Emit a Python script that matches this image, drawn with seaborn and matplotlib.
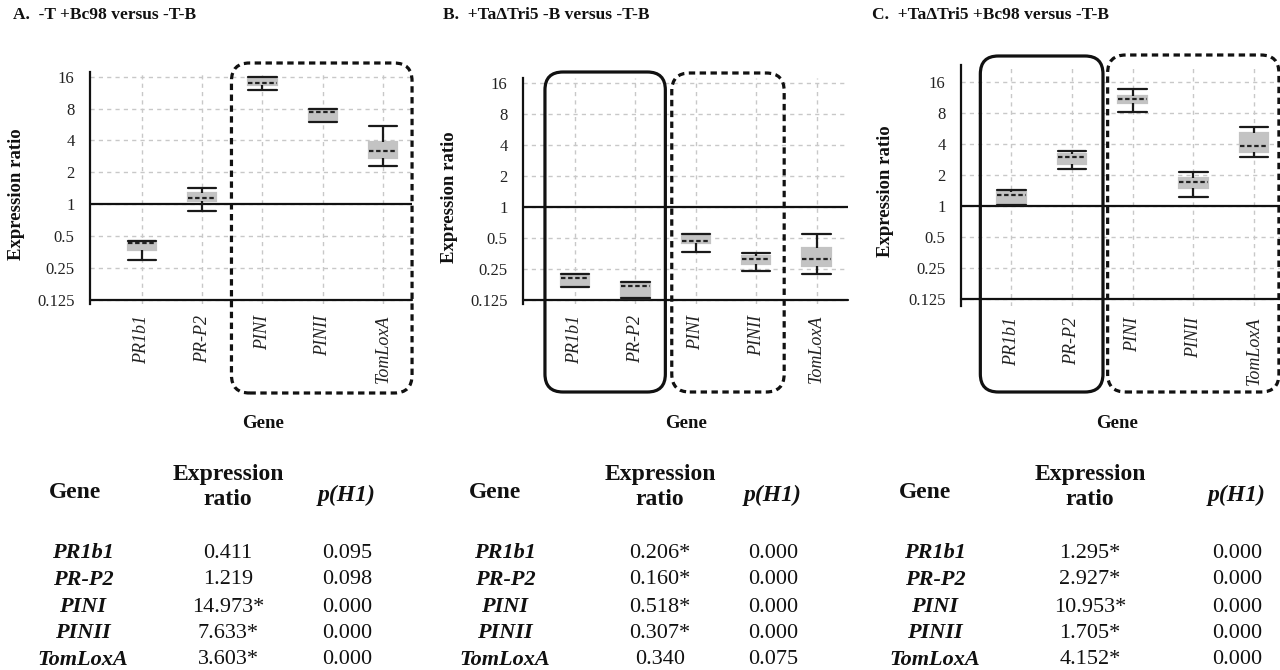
import numpy as np
import pandas as pd
import matplotlib
matplotlib.use("Agg")
import matplotlib.pyplot as plt
import seaborn as sns
from matplotlib.patches import FancyBboxPatch
from matplotlib.transforms import IdentityTransform
from matplotlib.ticker import NullLocator

sns.set_theme(style="white")
plt.rcParams['font.family'] = ['Liberation Serif', 'DejaVu Serif']

# ---------------- data ----------------
genes = ["PR1b1", "PR-P2", "PINI", "PINII", "TomLoxA"]
yticks = [0.125, 0.25, 0.5, 1, 2, 4, 8, 16]
ytick_labels = ["0.125", "0.25", "0.5", "1", "2", "4", "8", "16"]

titles = ["A.  -T +Bc98 versus -T-B",
          "B.  +Ta\u0394Tri5 -B versus -T-B",
          "C.  +Ta\u0394Tri5 +Bc98 versus -T-B"]

# Panel A box summaries (whisker low, box low, median, box high, whisker high)
whisker_low_a = [0.30, 0.865, 12.0, 6.0, 2.28]
box_low_a = [0.37, 1.08, 13.5, 6.1, 2.72]
median_a = [0.43, 1.15, 14.1, 7.48, 3.18]
box_high_a = [0.45, 1.27, 15.4, 7.88, 3.90]
whisker_high_a = [0.45, 1.44, 16.0, 8.0, 5.47]

# Panel B
whisker_low_b = [0.166, 0.130, 0.37, 0.24, 0.224]
box_low_b = [0.170, 0.131, 0.45, 0.28, 0.265]
median_b = [0.204, 0.170, 0.47, 0.31, 0.31]
box_high_b = [0.224, 0.188, 0.547, 0.337, 0.40]
whisker_high_b = [0.224, 0.188, 0.547, 0.36, 0.55]

# Panel C
whisker_low_c = [1.04, 2.29, 8.24, 1.22, 2.99]
box_low_c = [1.06, 2.58, 10.0, 1.49, 3.39]
median_c = [1.29, 2.99, 11.0, 1.71, 3.85]
box_high_c = [1.39, 3.22, 11.9, 1.87, 5.20]
whisker_high_c = [1.43, 3.44, 13.8, 2.17, 5.94]

# Tables
ratio_a = [0.411, 1.219, 14.973, 7.633, 3.603]
signif_a = [False, False, True, True, True]
p_a = [0.095, 0.098, 0.000, 0.000, 0.000]

ratio_b = [0.206, 0.160, 0.518, 0.307, 0.340]
signif_b = [True, True, True, True, False]
p_b = [0.000, 0.000, 0.000, 0.000, 0.075]

ratio_c = [1.295, 2.927, 10.953, 1.705, 4.152]
signif_c = [True, True, True, True, True]
p_c = [0.000, 0.000, 0.000, 0.000, 0.000]

# ---------------- figure ----------------
W, H = 1280, 670
fig = plt.figure(figsize=(W / 100, H / 100), dpi=100)
fig.patch.set_facecolor("white")


def fx(x):
    return x / W


def fy(y):
    return 1 - y / H


def panel_frame(lo, q1, med, q3, hi):
    rows = []
    for g, vals in zip(genes, zip(lo, q1, med, q3, hi)):
        for v in vals:
            rows.append((g, v))
    return pd.DataFrame(rows, columns=["gene", "ratio"])


panels = [
    dict(df=panel_frame(whisker_low_a, box_low_a, median_a, box_high_a, whisker_high_a),
         left=90, right=412, top=71.7, bottom=304, y16=76.7, y0125=300, xlim=(-0.86, 4.48),
         title_x=13, ylab_x=17, gene_x=263,
         table=(ratio_a, signif_a, p_a), tx=(75, 83, 228, 347),
         frames=[(2, 4, 31, 29, 63, 393, "dashed")]),
    dict(df=panel_frame(whisker_low_b, box_low_b, median_b, box_high_b, whisker_high_b),
         left=523, right=848, top=78, bottom=304, y16=83.3, y0125=300, xlim=(-0.86, 4.52),
         title_x=443, ylab_x=450, gene_x=686,
         table=(ratio_b, signif_b, p_b), tx=(495, 505, 660, 773),
         frames=[(0, 1, 30, 30, 72, 392, "solid"), (2, 3, 24, 28, 73, 392, "dashed")]),
    dict(df=panel_frame(whisker_low_c, box_low_c, median_c, box_high_c, whisker_high_c),
         left=961, right=1280, top=65, bottom=306, y16=82.3, y0125=299.3, xlim=(-0.83, 4.43),
         title_x=872, ylab_x=885, gene_x=1117,
         table=(ratio_c, signif_c, p_c), tx=(925, 935, 1090, 1237),
         frames=[(0, 1, 31, 31, 56, 392, "solid"), (2, 4, 25, 25, 55, 392, "dashed")]),
]

for k, P in enumerate(panels):
    ax = fig.add_axes([fx(P["left"]), fy(P["bottom"]),
                       (P["right"] - P["left"]) / W, (P["bottom"] - P["top"]) / H])
    ax.set_facecolor("white")
    sns.boxplot(data=P["df"], x="gene", y="ratio", order=genes, ax=ax,
                whis=(0, 100), width=0.47, color="#c3c3c3", linecolor="#1a1a1a",
                linewidth=1.6, log_scale=2, showfliers=False, capwidths=0.47,
                boxprops=dict(edgecolor="#c3c3c3"),
                medianprops=dict(linestyle=(0, (2, 1.2)), color="#222222", linewidth=1.6))
    ppd = (P["y0125"] - P["y16"]) / 7
    lo = -3 - (P["bottom"] - P["y0125"]) / ppd
    hi = 4 + (P["y16"] - P["top"]) / ppd
    ax.set_ylim(2 ** lo, 2 ** hi)
    ax.set_xlim(*P["xlim"])
    ax.set_yticks(yticks, ytick_labels)
    ax.yaxis.set_minor_locator(NullLocator())
    ax.set_xlabel("")
    ax.set_ylabel("")
    ax.set_axisbelow(True)
    ax.grid(True, color="#c8c8c8", linestyle=(0, (3, 3)), linewidth=1)
    for s in ["top", "right", "bottom"]:
        ax.spines[s].set_visible(False)
    ax.spines["left"].set_color("#111111")
    ax.spines["left"].set_linewidth(1.6)
    ax.axhline(1, color="#111111", lw=1.6, zorder=1.5)
    ax.axhline(0.125, color="#111111", lw=1.6, zorder=1.5, clip_on=False)
    ax.tick_params(axis="y", length=0, pad=11, labelsize=12, colors="#222222")
    ax.tick_params(axis="x", length=0, pad=8, labelsize=13, colors="#222222", rotation=90)
    for lbl in ax.get_xticklabels():
        lbl.set_fontstyle("italic")

    # titles and axis labels
    fig.text(fx(P["title_x"]), fy(15), titles[k], ha="left", va="center",
             fontsize=12.5, fontweight="bold", color="#111111")
    ylab_y = (P["top"] + P["bottom"]) / 2 + 6
    fig.text(fx(P["ylab_x"]), fy(ylab_y), "Expression ratio", rotation=90,
             ha="center", va="center", fontsize=13.5, fontweight="bold", color="#111111")
    fig.text(fx(P["gene_x"]), fy(423), "Gene", ha="center", va="center",
             fontsize=13.5, fontweight="bold", color="#111111")

    # grouping frames
    for i0, i1, ml, mr, ytop, ybot, style in P["frames"]:
        x0 = ax.transData.transform((i0, 1))[0] - ml
        x1 = min(ax.transData.transform((i1, 1))[0] + mr, W - 1)
        ls = "-" if style == "solid" else (0, (2.0, 1.4))
        patch = FancyBboxPatch((x0, H - ybot), x1 - x0, ybot - ytop,
                               boxstyle="round,pad=0,rounding_size=18",
                               transform=IdentityTransform(), fill=False,
                               edgecolor="#111111", linewidth=2.3, linestyle=ls)
        fig.add_artist(patch)

    # table
    ratios, sig, pvals = P["table"]
    hx, nx, vx, px = P["tx"]
    tsize = 16
    hsize = 17
    fig.text(fx(hx), fy(493), "Gene", ha="center", va="center", fontsize=hsize,
             fontweight="bold", color="#111111")
    fig.text(fx(vx), fy(487), "Expression\nratio", ha="center", va="center",
             fontsize=hsize, fontweight="bold", color="#111111", linespacing=1.3)
    fig.text(fx(px), fy(495), "p(H1)", ha="center", va="center", fontsize=hsize,
             fontweight="bold", fontstyle="italic", color="#111111")
    row_y = [553, 580, 607, 633, 660]
    for g, r, s, p, yy in zip(genes, ratios, sig, pvals, row_y):
        fig.text(fx(nx), fy(yy), g, ha="center", va="center", fontsize=tsize,
                 fontweight="bold", fontstyle="italic", color="#111111")
        fig.text(fx(vx), fy(yy), f"{r:.3f}" + ("*" if s else ""), ha="center",
                 va="center", fontsize=tsize, color="#111111")
        fig.text(fx(px), fy(yy), f"{p:.3f}", ha="center", va="center",
                 fontsize=tsize, color="#111111")

fig.savefig("out.png", dpi=100)
